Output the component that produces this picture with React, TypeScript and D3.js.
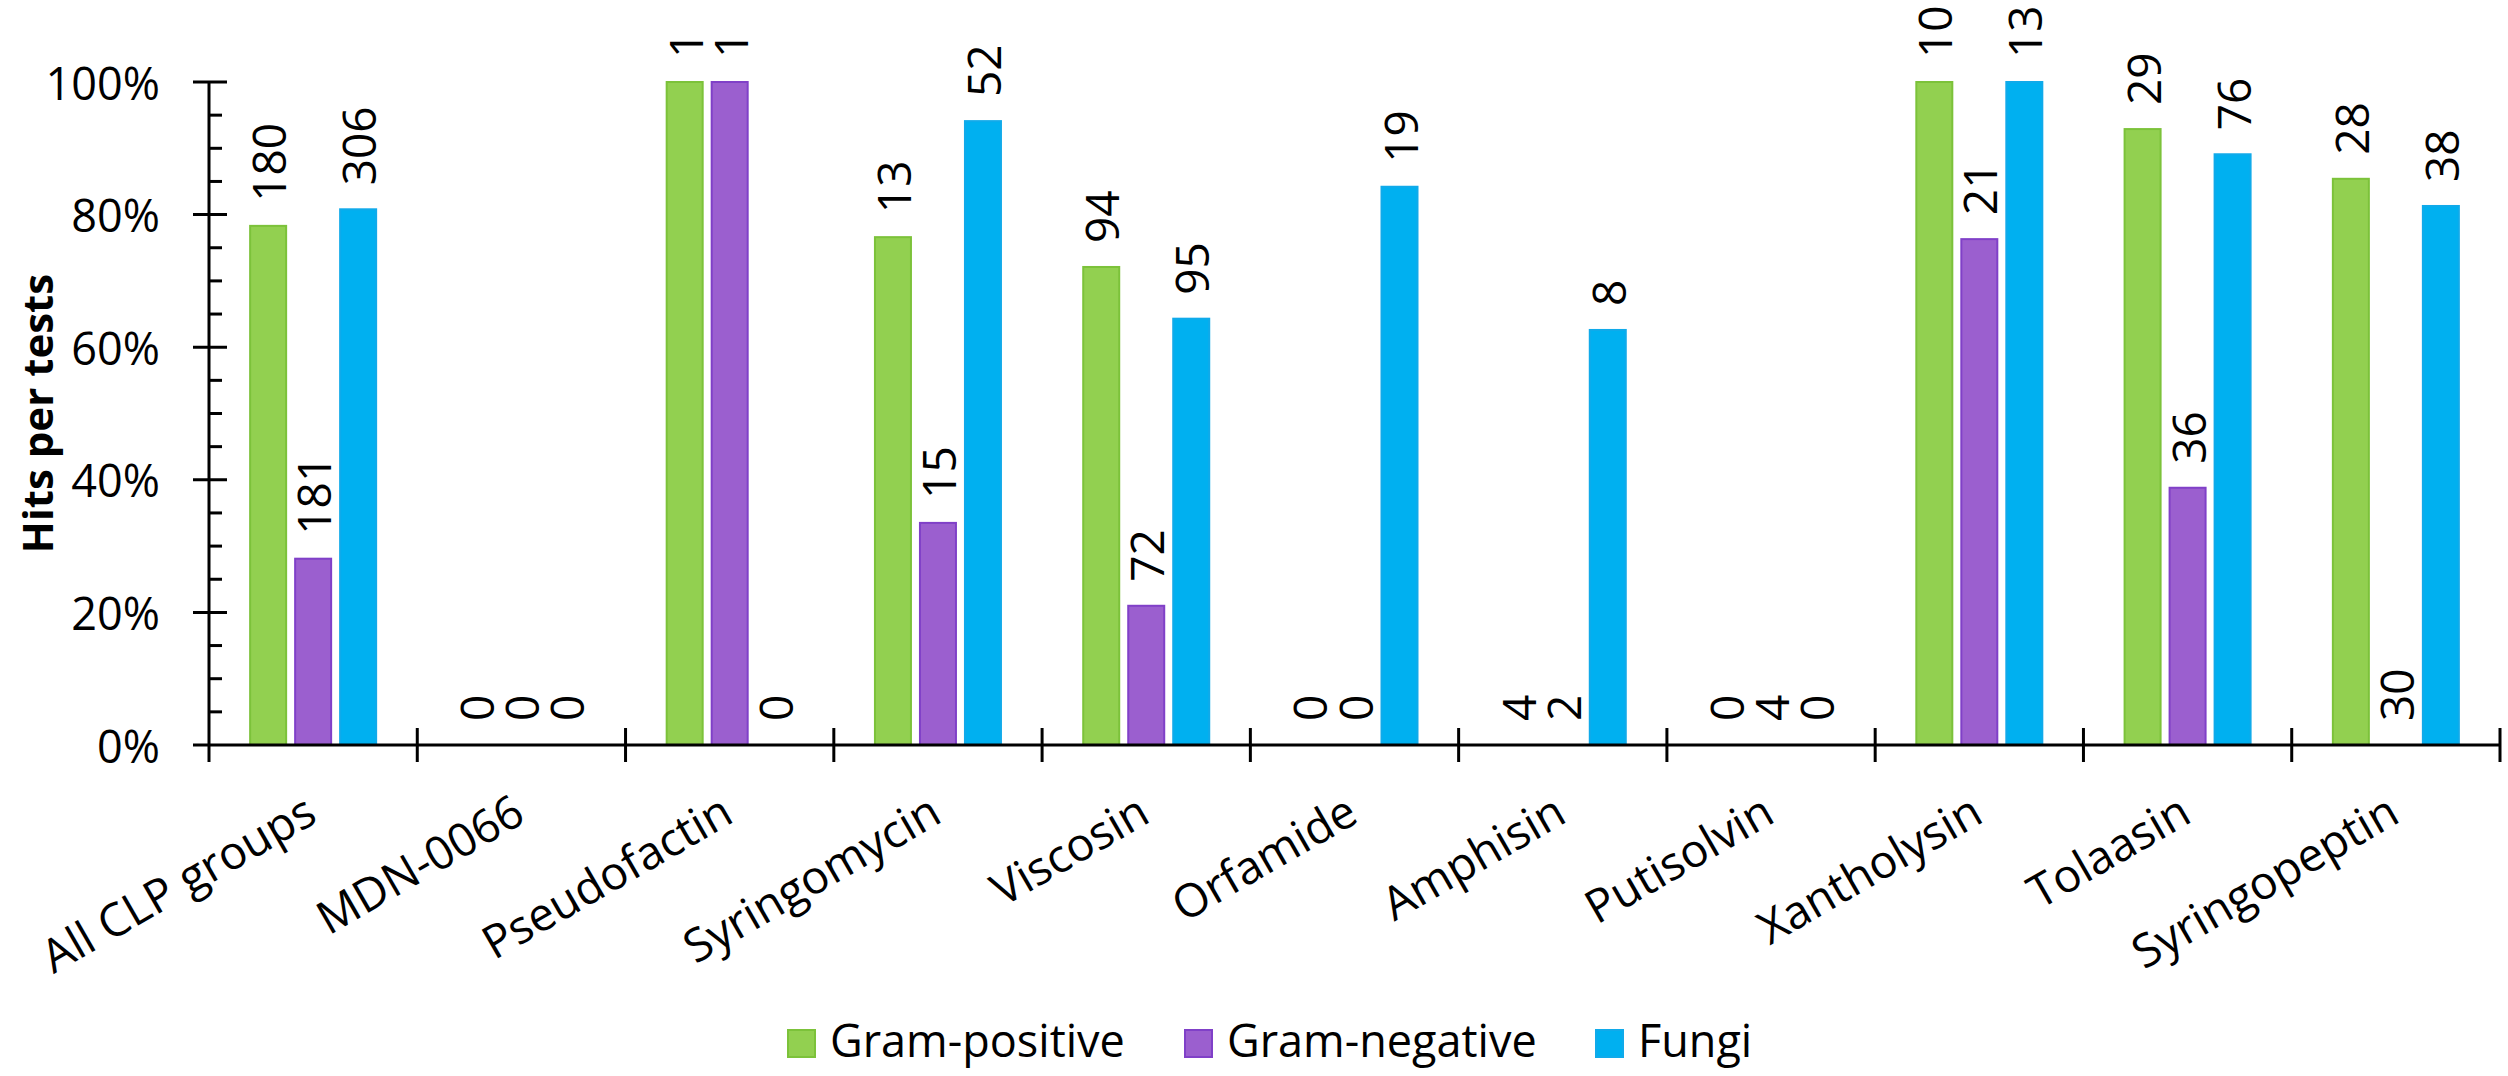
import { useEffect } from 'react'
import * as d3 from 'd3'

// Chart data
const categories = [
  'All CLP groups', 'MDN-0066', 'Pseudofactin', 'Syringomycin', 'Viscosin', 'Orfamide',
  'Amphisin', 'Putisolvin', 'Xantholysin', 'Tolaasin', 'Syringopeptin'
]
const gramPositivePct = [78.3, 0, 100, 76.6, 72.1, 0, 0, 0, 100, 92.9, 85.4]
const gramPositiveHits = [180, 0, 1, 13, 94, 0, 4, 0, 10, 29, 28]
const gramNegativePct = [28.1, 0, 100, 33.5, 21.0, 0, 0, 0, 76.3, 38.8, 0]
const gramNegativeHits = [181, 0, 1, 15, 72, 0, 2, 4, 21, 36, 30]
const fungiPct = [80.8, 0, 0, 94.1, 64.3, 84.2, 62.6, 0, 100, 89.1, 81.3]
const fungiHits = [306, 0, 0, 52, 95, 19, 8, 0, 13, 76, 38]
const yTicks = [0, 20, 40, 60, 80, 100]

const series = [
  { key: 'pos', label: 'Gram-positive', pct: gramPositivePct, hits: gramPositiveHits, fill: '#92D050', stroke: '#7CC23A' },
  { key: 'neg', label: 'Gram-negative', pct: gramNegativePct, hits: gramNegativeHits, fill: '#9B5FCF', stroke: '#8040C8' },
  { key: 'fungi', label: 'Fungi', pct: fungiPct, hits: fungiHits, fill: '#00B0F0', stroke: '#10AAEA' }
]

const W = 2508
const H = 1076
const left = 209
const right = 2500
const bottom = 745
const top = 82
const font = '"Open Sans", "Noto Sans", sans-serif'

export default function App() {
  useEffect(() => {
    document.body.style.margin = '0'
  }, [])

  const x0 = d3.scaleBand<string>()
    .domain(categories)
    .range([left, right])
    .paddingInner(0.395)
    .paddingOuter(0.1975)

  const x1 = d3.scaleBand<string>()
    .domain(series.map(s => s.key))
    .range([0, x0.bandwidth()])
    .paddingInner(0.2)

  const y = d3.scaleLinear().domain([0, 100]).range([bottom, top])

  const minorTicks = d3.range(0, 101, 5).filter(v => v % 20 !== 0)
  const step = x0.step()
  const boundaries = d3.range(categories.length + 1).map(i => left + i * step)

  // legend layout (x of each swatch)
  const legendX = [788, 1185, 1596]

  return (
    <svg width={W} height={H} style={{ display: 'block', background: '#fff' }} fontFamily={font}>
      {/* bars */}
      {series.map(s => (
        <g key={s.key}>
          {categories.map((c, i) => {
            const bx = (x0(c) || 0) + (x1(s.key) || 0)
            const by = y(s.pct[i])
            const h = bottom - by
            return h > 0 ? (
              <rect key={c} x={bx} y={by} width={x1.bandwidth()} height={h}
                fill={s.fill} stroke={s.stroke} strokeWidth={2} />
            ) : null
          })}
        </g>
      ))}

      {/* value labels */}
      {series.map(s => (
        <g key={s.key + '-lab'}>
          {categories.map((c, i) => {
            const cx = (x0(c) || 0) + (x1(s.key) || 0) + x1.bandwidth() / 2
            const ly = y(s.pct[i]) - 24
            return (
              <text key={c} transform={`translate(${cx},${ly}) rotate(-90)`}
                textAnchor="start" dominantBaseline="central" fontSize={46} fill="#000">
                {s.hits[i]}
              </text>
            )
          })}
        </g>
      ))}

      {/* y axis */}
      <line x1={left} x2={left} y1={top} y2={bottom} stroke="#000" strokeWidth={3} />
      {yTicks.map(t => (
        <g key={t}>
          <line x1={193} x2={t === 0 ? left : 227} y1={y(t)} y2={y(t)} stroke="#000" strokeWidth={3} />
          <text x={160} y={y(t)} textAnchor="end" dominantBaseline="central" fontSize={45} fill="#000">
            {t}%
          </text>
        </g>
      ))}
      {minorTicks.map(t => (
        <line key={'m' + t} x1={left} x2={222} y1={y(t)} y2={y(t)} stroke="#000" strokeWidth={3} />
      ))}
      <text transform={`translate(36,${(top + bottom) / 2}) rotate(-90)`} textAnchor="middle"
        dominantBaseline="central" fontSize={42} fontWeight="bold" fill="#000">
        Hits per tests
      </text>

      {/* x axis */}
      <line x1={left} x2={right} y1={bottom} y2={bottom} stroke="#000" strokeWidth={3} />
      {boundaries.map((bx, i) => (
        <line key={'b' + i} x1={bx} x2={bx} y1={i === 0 ? bottom : bottom - 17} y2={bottom + 17}
          stroke="#000" strokeWidth={3} />
      ))}
      {categories.map(c => {
        const cx = (x0(c) || 0) + x0.bandwidth() / 2
        return (
          <text key={c} transform={`translate(${cx + 6},${bottom + 76}) rotate(-30)`}
            textAnchor="end" fontSize={46} fill="#000">
            {c}
          </text>
        )
      })}

      {/* legend */}
      {series.map((s, i) => (
        <g key={s.key + '-leg'} transform={`translate(${legendX[i]},1030)`}>
          <rect x={0} y={0} width={27} height={27} fill={s.fill} stroke={s.stroke} strokeWidth={2} />
          <text x={42} y={27} fontSize={45} fill="#000">{s.label}</text>
        </g>
      ))}
    </svg>
  )
}
